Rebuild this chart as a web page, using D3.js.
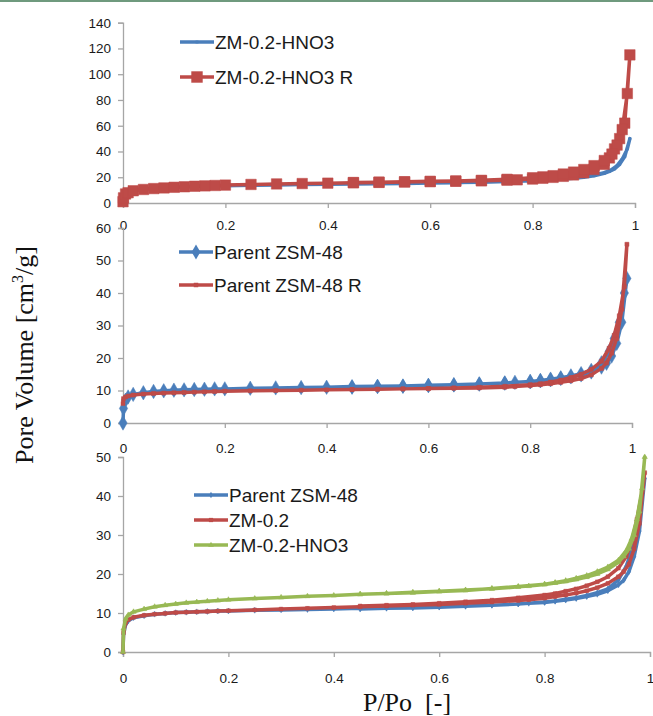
<!DOCTYPE html>
<html><head><meta charset="utf-8">
<script src="https://cdn.jsdelivr.net/npm/d3@7/dist/d3.min.js"></script>
<style>
body{margin:0;background:#fff;}
svg{display:block;}
</style></head>
<body>
<svg id="chart" width="653" height="716"></svg>
<script>
// ---------- DATA ----------
const xTicks = [0, 0.2, 0.4, 0.6, 0.8, 1];
const yTicks1 = [0, 20, 40, 60, 80, 100, 120, 140];
const yTicks2 = [0, 10, 20, 30, 40, 50, 60];
const yTicks3 = [0, 10, 20, 30, 40, 50];

// relative pressure points (adsorption then desorption branch)
const pAds = [0, 0.001, 0.005, 0.01, 0.02, 0.04, 0.06, 0.08, 0.10, 0.12, 0.14, 0.16, 0.18, 0.20, 0.25, 0.30, 0.35, 0.40, 0.45, 0.50, 0.55, 0.60, 0.65, 0.70, 0.75, 0.77, 0.80, 0.82, 0.84, 0.86, 0.88, 0.90, 0.92, 0.94, 0.95, 0.96, 0.97, 0.98, 0.99];
const pDes = [0.985, 0.975, 0.965, 0.955, 0.94, 0.92, 0.90, 0.88, 0.86, 0.84, 0.82, 0.80, 0.75, 0.70, 0.65, 0.60, 0.55, 0.50, 0.45];

// ZM-0.2-HNO3
const hno3Ads = [0, 6, 8.5, 9.5, 10.3, 11.0, 11.6, 12.0, 12.3, 12.6, 12.8, 13.0, 13.2, 13.4, 13.7, 14.0, 14.3, 14.5, 14.8, 15.0, 15.3, 15.6, 15.9, 16.2, 16.7, 16.9, 17.3, 17.7, 18.1, 18.6, 19.2, 20.0, 21.2, 23.0, 24.5, 26.5, 30.0, 36.0, 50.0];
const hno3Des = [42, 34, 29, 26, 23.5, 21.8, 20.6, 19.6, 18.9, 18.3, 17.8, 17.4, 16.8, 16.3, 15.8, 15.5, 15.2, 15.0, 14.8];
// ZM-0.2-HNO3 R
const hno3RAds = [1, 4, 7, 8, 9.5, 10.5, 11.2, 11.7, 12.2, 12.6, 13.0, 13.3, 13.6, 13.9, 14.4, 14.8, 15.1, 15.4, 15.7, 16.0, 16.3, 16.6, 16.9, 17.2, 17.7, 18.0, 18.6, 19.2, 19.9, 20.7, 21.8, 23.5, 26.0, 30.0, 35.0, 42.0, 50.0, 62.0, 115];
const hno3RDes = [85, 57, 45, 38, 33, 29, 26, 24, 22.5, 21.2, 20.3, 19.6, 18.4, 17.6, 17.1, 16.8, 16.5, 16.2, 15.9];
// Parent ZSM-48
const parentAds = [0, 4.5, 7, 8, 8.8, 9.3, 9.7, 9.9, 10.1, 10.2, 10.3, 10.4, 10.5, 10.5, 10.7, 10.8, 10.9, 11.0, 11.2, 11.3, 11.4, 11.6, 11.8, 12.0, 12.3, 12.5, 12.7, 13.0, 13.3, 13.7, 14.2, 14.8, 15.7, 17.2, 18.4, 20.6, 24.5, 31.0, 44.5];
const parentDes = [40, 31, 26, 22, 18.5, 16.2, 15.2, 14.5, 13.9, 13.5, 13.1, 12.8, 12.3, 12.0, 11.7, 11.5, 11.3, 11.2, 11.0];
// Parent ZSM-48 R
const parentRAds = [6, 7.5, 8.0, 8.3, 8.6, 8.9, 9.1, 9.2, 9.3, 9.4, 9.5, 9.6, 9.7, 9.8, 9.9, 10.0, 10.1, 10.2, 10.3, 10.4, 10.5, 10.6, 10.7, 10.8, 11.0, 11.2, 11.5, 11.8, 12.1, 12.5, 13.0, 13.7, 14.8, 16.8, 18.5, 21.5, 26.0, 35.0, 55.0];
const parentRDes = [42, 33, 27, 23, 19, 16.5, 15.0, 14.0, 13.2, 12.6, 12.1, 11.8, 11.3, 11.0, 10.8, 10.6, 10.5, 10.4, 10.3];
// ZM-0.2
const zm02Ads = [0, 5, 7.5, 8.3, 8.9, 9.4, 9.7, 9.9, 10.1, 10.2, 10.3, 10.4, 10.5, 10.6, 10.8, 11.0, 11.2, 11.4, 11.6, 11.8, 12.0, 12.2, 12.5, 12.8, 13.2, 13.4, 13.8, 14.2, 14.6, 15.1, 15.7, 16.5, 17.6, 19.3, 20.6, 22.5, 26.5, 33.0, 46.0];
const zm02Des = [41, 34, 28, 24.5, 21.5, 19.3, 18.0, 17.0, 16.2, 15.6, 15.0, 14.6, 13.9, 13.3, 12.9, 12.5, 12.2, 12.0, 11.8];

const BLUE = "#4a7ebb", RED = "#be4b48", GREEN = "#98b954";

function pts(ads, des) {
  const a = pAds.map((p, i) => [p, ads[i]]);
  const d = pDes.map((p, i) => [p, des[i]]);
  return a.concat(d);
}

const svg = d3.select("#chart");
svg.append("rect").attr("x", 0).attr("y", 0).attr("width", 653).attr("height", 2).attr("fill", "#6f9a7e");

const SANS = "'Liberation Sans', Arial, sans-serif";
const SERIF = "'Liberation Serif', 'Times New Roman', serif";

function panel(cfg) {
  const x = d3.scaleLinear().domain([0, 1]).range([cfg.x0, cfg.x1]);
  const y = d3.scaleLinear().domain([0, cfg.yMax]).range([cfg.yBot, cfg.yTop]);
  const g = svg.append("g");
  // y axis
  const ya = g.append("g").attr("transform", `translate(${cfg.x0},0)`)
    .call(d3.axisLeft(y).tickValues(cfg.yTicks).tickSize(5).tickPadding(7).tickFormat(d3.format("d")));
  ya.select(".domain").attr("stroke", "#a6a6a6").attr("stroke-width", 1.3);
  ya.selectAll(".tick line").attr("stroke", "#a6a6a6").attr("stroke-width", 1.3);
  ya.selectAll("text").attr("font-family", SANS).attr("font-size", 13.5).attr("fill", "#1a1a1a");
  // x axis
  const xa = g.append("g").attr("transform", `translate(0,${cfg.yBot})`)
    .call(d3.axisBottom(x).tickValues(xTicks).tickSize(5).tickPadding(cfg.xPad).tickFormat(d => d === 0 || d === 1 ? String(d) : d3.format(".1f")(d)));
  xa.select(".domain").attr("stroke", "#a6a6a6").attr("stroke-width", 1.3);
  xa.selectAll(".tick line").attr("stroke", "#a6a6a6").attr("stroke-width", 1.3);
  xa.selectAll("text").attr("font-family", SANS).attr("font-size", 13.5).attr("fill", "#1a1a1a");

  const line = d3.line().x(d => x(d[0])).y(d => y(d[1]));
  cfg.series.forEach(s => {
    const data = pts(s.ads, s.des);
    g.append("path").datum(data).attr("d", line).attr("fill", "none")
      .attr("stroke", s.color).attr("stroke-width", s.lw || 3.5).attr("stroke-linejoin", "round");
    const sym = d3.symbol().type(s.symbol).size(s.size);
    g.selectAll(null).data(data).join("path")
      .attr("d", sym).attr("transform", d => `translate(${x(d[0])},${y(d[1])})`)
      .attr("fill", s.color).attr("stroke", s.color).attr("stroke-width", 0.5);
  });
  // legend
  cfg.series.forEach((s, i) => {
    const ly = cfg.legY + i * cfg.legDy;
    g.append("line").attr("x1", cfg.legX).attr("x2", cfg.legX + 34).attr("y1", ly).attr("y2", ly)
      .attr("stroke", s.color).attr("stroke-width", 3.5);
    g.append("path").attr("d", d3.symbol().type(s.symbol).size(s.legSize || s.size)())
      .attr("transform", `translate(${cfg.legX + 17},${ly})`).attr("fill", s.color);
    g.append("text").attr("x", cfg.legX + 35).attr("y", ly).attr("dy", "0.36em")
      .attr("font-family", SANS).attr("font-size", 19).attr("fill", "#1a1a1a").text(s.name);
  });
}

panel({x0: 123, x1: 635, yTop: 22.7, yBot: 203, yMax: 140, yTicks: yTicks1, xPad: 12,
  legX: 180, legY: 42, legDy: 35,
  series: [
    {name: "ZM-0.2-HNO3", ads: hno3Ads, des: hno3Des, color: BLUE, symbol: d3.symbolSquare, size: 5, legSize: 8},
    {name: "ZM-0.2-HNO3 R", ads: hno3RAds, des: hno3RDes, color: RED, symbol: d3.symbolSquare, size: 110, legSize: 130}
  ]});

panel({x0: 123, x1: 632, yTop: 228, yBot: 423, yMax: 60, yTicks: yTicks2, xPad: 15,
  legX: 179, legY: 252, legDy: 33,
  series: [
    {name: "Parent ZSM-48", ads: parentAds, des: parentDes, color: BLUE, symbol: d3.symbolDiamond, size: 60, legSize: 65},
    {name: "Parent ZSM-48 R", ads: parentRAds, des: parentRDes, color: RED, symbol: d3.symbolSquare, size: 16, legSize: 20}
  ]});

panel({x0: 123, x1: 650, yTop: 457, yBot: 652, yMax: 50, yTicks: yTicks3, xPad: 16,
  legX: 194, legY: 495, legDy: 25,
  series: [
    {name: "Parent ZSM-48", ads: parentAds, des: parentDes, color: BLUE, symbol: d3.symbolDiamond, size: 10, legSize: 12},
    {name: "ZM-0.2", ads: zm02Ads, des: zm02Des, color: RED, symbol: d3.symbolSquare, size: 14, legSize: 18},
    {name: "ZM-0.2-HNO3", ads: hno3Ads, des: hno3Des, color: GREEN, symbol: d3.symbolTriangle, size: 12, legSize: 14}
  ]});

// axis titles
const yt = svg.append("text").attr("transform", "translate(33,355) rotate(-90)")
  .attr("text-anchor", "middle").attr("font-family", SERIF).attr("font-size", 26).attr("fill", "#111");
yt.append("tspan").text("Pore Volume [cm");
yt.append("tspan").attr("font-size", 16).attr("dy", -10).text("3");
yt.append("tspan").attr("dy", 10).text("/g]");

svg.append("text").attr("x", 407).attr("y", 711).attr("text-anchor", "middle")
  .attr("font-family", SERIF).attr("font-size", 26).attr("fill", "#111")
  .style("white-space", "pre").text("P/Po  [-]");
</script>
</body></html>
